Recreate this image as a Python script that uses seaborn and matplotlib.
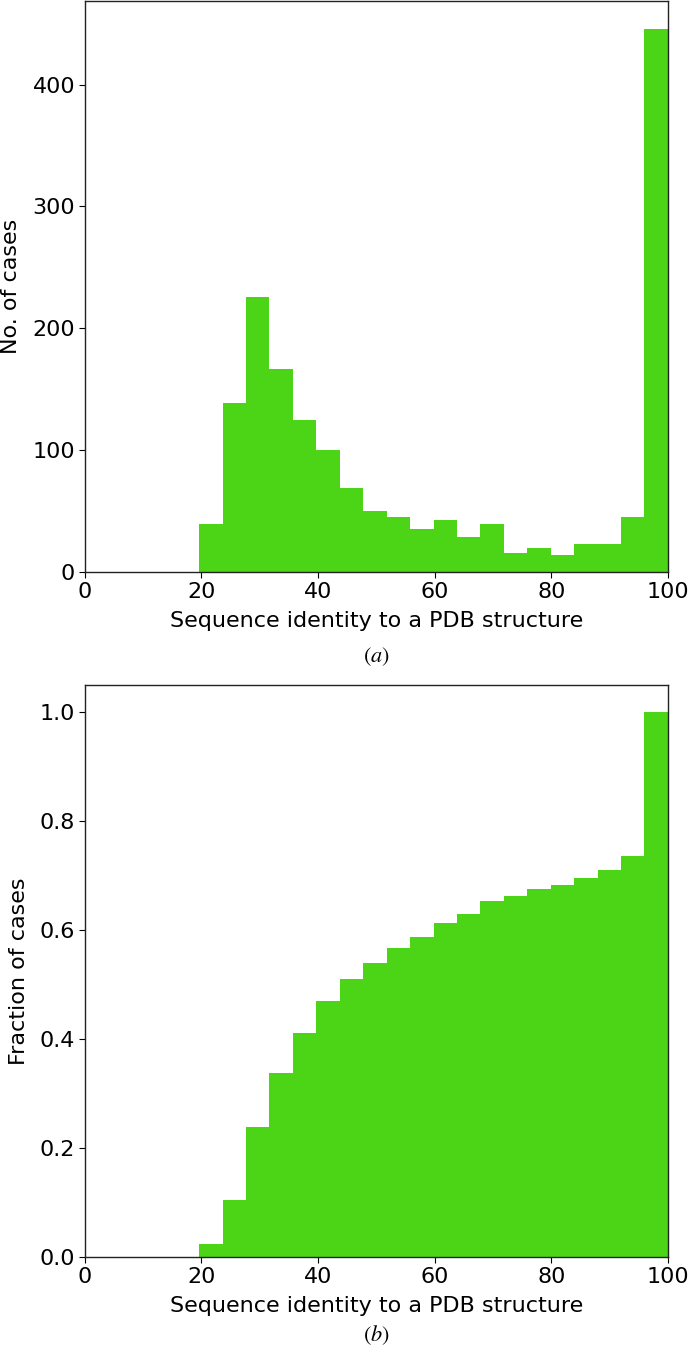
import numpy as np
import pandas as pd
import matplotlib
matplotlib.use("Agg")
import matplotlib.pyplot as plt
import seaborn as sns

# Counts per identity bin
counts = [39, 139, 226, 167, 125, 100, 69, 50, 45, 35,
          43, 29, 39, 16, 20, 14, 23, 23, 45, 446]
bin_start = 19.6
bin_stop = 100
xticks = [0, 20, 40, 60, 80, 100]
xlabel = "Sequence identity to a PDB structure"
ylabel_top = "No. of cases"
ylabel_bottom = "Fraction of cases"

GREEN = "#4cd416"

edges = np.linspace(bin_start, bin_stop, len(counts) + 1)
centers = (edges[:-1] + edges[1:]) / 2
df = pd.DataFrame({"identity": centers, "n": counts})
edge_list = edges.tolist()

sns.set_style("ticks")
plt.rcParams["font.family"] = ["DejaVu Sans"]
plt.rcParams["font.size"] = 16
for key in ["text.color", "axes.labelcolor", "xtick.color", "ytick.color"]:
    plt.rcParams[key] = "black"
plt.rcParams["axes.edgecolor"] = "#222222"

fig = plt.figure(figsize=(6.9, 13.51), dpi=100)
ax1 = fig.add_axes([0.123, 0.5766, 0.845, 0.4224])
ax2 = fig.add_axes([0.123, 0.0696, 0.845, 0.4234])

# (a) histogram
sns.histplot(data=df, x="identity", weights="n", bins=edge_list, ax=ax1,
             color=GREEN, alpha=1, linewidth=0)
ax1.set_ylabel(ylabel_top, fontsize=16, labelpad=8)
ax1.set_yticks([0, 100, 200, 300, 400])

# (b) cumulative fraction
sns.histplot(data=df, x="identity", weights="n", bins=edge_list, ax=ax2,
             stat="probability", cumulative=True,
             color=GREEN, alpha=1, linewidth=0)
ax2.set_ylabel(ylabel_bottom, fontsize=16, labelpad=8)
ax2.set_yticks([0.0, 0.2, 0.4, 0.6, 0.8, 1.0])

for ax, tag, off in [(ax1, "a", -0.149), (ax2, "b", -0.136)]:
    ax.set_xlim(0, 100)
    ax.set_xticks(xticks)
    ax.set_xlabel(xlabel, fontsize=16, labelpad=7)
    ax.tick_params(labelsize=16, color="black", length=4, pad=3)
    for s in ax.spines.values():
        s.set_visible(True)
        s.set_linewidth(1.0)
    ax.text(0.5, off, "$(" + tag + ")$", transform=ax.transAxes,
            ha="center", va="center", fontsize=16, math_fontfamily="stix")

fig.savefig("out.png", dpi=100)
